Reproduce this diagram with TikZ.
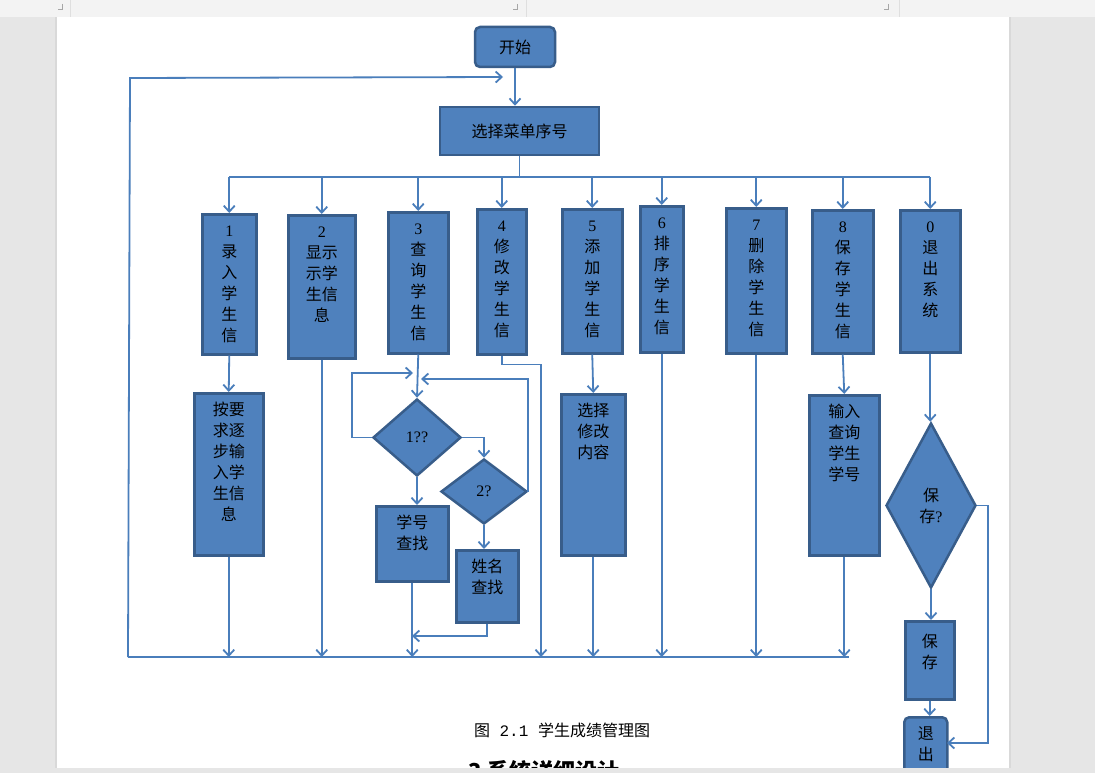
\documentclass[tikz,border=0pt]{standalone}
\usepackage{fontspec}
\setmainfont{Liberation Serif}
\newfontfamily\cjk{Noto Sans CJK SC}
\newfontfamily\cjkmono{Liberation Mono}
\usetikzlibrary{shapes.geometric,arrows.meta}

\definecolor{boxfill}{HTML}{4F81BD}
\definecolor{boxline}{HTML}{385D8A}
\definecolor{linec}{HTML}{4A7EBB}
\definecolor{pagegray}{HTML}{E6E6E6}
\definecolor{rulergray}{HTML}{F3F3F3}

\newcommand{\vtext}[3]{\parbox[c][#2pt][t]{#1pt}{\centering\strut#3}}

\tikzset{
  box/.style={draw=boxline, fill=boxfill, line width=2.5pt, inner xsep=0pt,
    inner ysep=8pt, anchor=north west, font=\cjk\fontsize{16}{21}\selectfont},
  deci/.style={diamond, draw=boxline, fill=boxfill, line width=2.5pt,
    inner sep=0pt, align=center, font=\cjk\fontsize{16}{21}\selectfont},
  conn/.style={draw=linec, line width=1.8pt},
  conarr/.style={conn, -{Straight Barb[length=6pt,width=11pt]}}
}

\begin{document}
\begin{tikzpicture}[x=1pt,y=-1pt]

\useasboundingbox (0,0) rectangle (1095,773);

% Fond de page
\fill[pagegray] (0,0) rectangle (1095,773);
\fill[white] (57,17) rectangle (1009,768);
\draw[gray!30, line width=2pt] (56,17) -- (56,768);
\draw[gray!30, line width=2pt] (1010,17) -- (1010,768);
\fill[rulergray] (0,0) rectangle (1095,17);
\foreach \x in {62,517,888}
{
    \draw[gray!70, line width=1pt] (\x,4) -- (\x,10) -- (\x-4,10);
}
\foreach \x in {70,526,899}
{
    \draw[gray!25] (\x,0) -- (\x,17);
}

% Menu
\node[box, anchor=center, rounded corners=5pt, minimum width=80pt,
  minimum height=40pt] (start) at (515,47) {开始};
\node[box, anchor=center, minimum width=159pt, minimum height=48pt]
  (menu) at (519.5,131) {选择菜单序号};

\foreach \n/\x/\y/\w/\h/\lab in {
1/201/213/54/124/{\textrm{1}\\录\\入\\学\\生\\信},
2/287/214/67/127/{\textrm{2}\\显示\\示学\\生信\\息},
3/387/211/60/125/{\textrm{3}\\查\\询\\学\\生\\信},
4/476/208/49/129/{\textrm{4}\\修\\改\\学\\生\\信},
5/561/208/60/128/{\textrm{5}\\添\\加\\学\\生\\信},
6/639/205/43/130/{\textrm{6}\\排\\序\\学\\生\\信},
7/725/207/60/129/{\textrm{7}\\删\\除\\学\\生\\信},
8/811/209/61/127/{\textrm{8}\\保\\存\\学\\生\\信},
0/899/209/60/126/{\textrm{0}\\退\\出\\系\\统}
}
{
    \node[box] (b\n) at (\x,\y) {\vtext{\w}{\h}{\lab}};
}

\node[box] (in1) at (193,392) {\vtext{69}{146}{按要\\求逐\\步输\\入学\\生信\\息}};
\node[box] (mod) at (560,393) {\vtext{64}{145}{选择\\修改\\内容}};
\node[box] (ask) at (808,394) {\vtext{70}{144}{输入\\查询\\学生\\学号}};

% Recherche
\node[deci, minimum width=88pt, minimum height=77pt] (d1) at (417,437.5) {\textrm{1??}};
\node[deci, minimum width=86pt, minimum height=65pt] (d2) at (484,491.5) {\textrm{2?}};
\node[box] (num) at (375,505) {\vtext{72}{59}{学号\\查找}};
\node[box] (name) at (455,549) {\vtext{62}{56}{姓名\\查找}};

% Sortie
\node[deci, minimum width=90pt, minimum height=165pt] (sv) at (931,505.5) {保\\存\textrm{?}};
\node[box, inner ysep=12pt] (save) at (904,620) {\vtext{49}{54}{保\\存}};
\node[box, rounded corners=5pt] (quit) at (903,716) {\vtext{43}{60}{退\\出}};

% Liaisons
\coordinate (bus) at (0,177);
\draw[conarr] (start.south) -- (start.south |- menu.north);
\draw[conn] (menu.south) -- (menu.south |- bus);
\draw[conn] (b1.north |- bus) -- (b0.north |- bus);
\foreach \n in {1,2,3,4,5,6,7,8,0}
{
    \draw[conarr] (b\n.north |- bus) -- (b\n.north);
}

\coordinate (ll) at (128,657);
\coordinate (lr) at (849,657);
\coordinate (lt) at (130,78);
\coordinate (back) at (503,77);
\draw[conn] (ll) -- (lr);
\draw[conarr] (ll) -- (lt) -- (back);

\foreach \n in {2,6,7}
{
    \draw[conarr] (b\n.south) -- (b\n.south |- ll);
}
\draw[conarr] (b1.south) -- (in1.north);
\draw[conarr] (in1.south) -- (in1.south |- ll);
\draw[conarr] (b5.south) -- (mod.north);
\draw[conarr] (mod.south) -- (mod.south |- ll);
\draw[conarr] (b8.south) -- (ask.north);
\draw[conarr] (ask.south) -- (ask.south |- ll);

\coordinate (q1) at (413,373);
\coordinate (q2) at (421,379);
\coordinate (q3) at (412,636);
\coordinate (q4) at (541,657);
\draw[conarr] (b3.south) -- (d1.north);
\draw[conarr] (d1.west) -- ++(-20,0) |- (q1);
\draw[conarr] (d1.east) -| (d2.north);
\draw[conarr] (d2.east) |- (q2);
\draw[conarr] (d1.south) -- (d1.south |- num.north);
\draw[conarr] (d2.south) -- (d2.south |- name.north);
\draw[conarr] (name.south) |- (q3);
\draw[conarr] (num.south) -- (num.south |- ll);
\draw[conarr] (b4.south) -- ++(0,9) -| (q4);

\coordinate (q5) at (947,743);
\draw[conarr] (b0.south) -- (b0.south |- sv.north);
\draw[conarr] (sv.south) -- (sv.south |- save.north);
\draw[conarr] (save.south) -- (save.south |- quit.north);
\draw[conarr] (sv.east) -- ++(11,0) |- (q5);

% Légende
\node[font=\cjk\fontsize{16}{20}\selectfont] (cap) at (562,730)
{图{\cjkmono\ 2.1\ }学生成绩管理图};
\node[font=\cjk\bfseries\fontsize{22}{24}\selectfont] (sec) at (544,771)
{3 系统详细设计};

\fill[pagegray] (0,768) rectangle (1095,773);

\end{tikzpicture}
\end{document}
